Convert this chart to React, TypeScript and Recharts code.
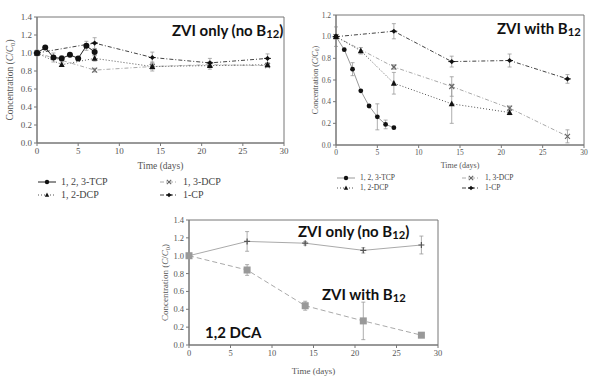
import React from 'react'
import { LineChart, Line, XAxis, YAxis, ErrorBar, ReferenceArea } from 'recharts'

// ---- data ----
const TCP_DAYS = [0, 1, 2, 3, 4, 5, 6, 7]
const WEEK_DAYS = [0, 7, 14, 21, 28]
const DCP12_DAYS_A = [0, 3, 7, 14, 21, 28]
const DCP12_DAYS_B = [0, 3, 7, 14, 21]
const X_TICKS = [0, 5, 10, 15, 20, 25, 30]

// panel 1: ZVI only (no B12)
const A_TCP = [1.0, 1.06, 0.95, 0.94, 0.98, 0.94, 1.08, 1.01]
const A_TCP_ERR = [0.02, null, 0.05, 0.03, null, null, 0.05, 0.04]
const A_DCP12 = [1.0, 0.87, 0.94, 0.85, 0.86, 0.87]
const A_DCP12_ERR = [0.03, 0.02, 0.03, 0.05, 0.04, 0.02]
const A_DCP13 = [1.0, 0.81, 0.85, 0.87, 0.86]
const A_DCP13_ERR = [0.02, 0.02, 0.03, 0.03, 0.02]
const A_CP = [1.0, 1.11, 0.95, 0.89, 0.94]
const A_CP_ERR = [0.03, 0.06, 0.06, 0.05, 0.05]
const A_Y_TICKS = [0, 0.2, 0.4, 0.6, 0.8, 1.0, 1.2, 1.4]

// panel 2: ZVI with B12
const B_TCP = [1.0, 0.88, 0.7, 0.5, 0.36, 0.26, 0.19, 0.16]
const B_TCP_ERR = [null, null, 0.06, null, null, 0.12, 0.04, null]
const B_DCP12 = [1.0, 0.87, 0.57, 0.38, 0.3]
const B_DCP12_ERR = [0.02, 0.03, 0.1, 0.18, 0.02]
const B_DCP13 = [1.0, 0.72, 0.54, 0.34, 0.08]
const B_DCP13_ERR = [0.02, 0.02, 0.09, 0.02, 0.06]
const B_CP = [1.0, 1.05, 0.77, 0.78, 0.61]
const B_CP_ERR = [0.09, 0.07, 0.05, 0.06, 0.04]
const B_Y_TICKS = [0, 0.2, 0.4, 0.6, 0.8, 1.0, 1.2]

// panel 3: 1,2 DCA
const C_NO_B12 = [1.0, 1.16, 1.14, 1.06, 1.12]
const C_NO_B12_ERR = [0.01, 0.11, 0.02, 0.03, 0.1]
const C_B12 = [1.0, 0.84, 0.44, 0.27, 0.11]
const C_B12_ERR = [0.01, 0.06, 0.05, 0.21, 0.01]

const LEGEND_LABELS = ['1, 2, 3-TCP', '1, 3-DCP', '1, 2-DCP', '1-CP']

type Row = { d: number; v: number; e: number | null }
const rows = (days: number[], vals: number[], errs: (number | null)[]): Row[] =>
  days.map((d, i) => ({ d, v: vals[i], e: errs[i] ?? null }))

const AXIS = '#777'
const TXT = '#555'
const SERIF = "'Liberation Serif', 'DejaVu Serif', serif"
const BOLD = "Lato, 'Open Sans', sans-serif"

type Kind = 'circle' | 'triangle' | 'cross' | 'diamond' | 'plus' | 'square'

function marker(kind: Kind, cx: number, cy: number, s: number, color: string, key?: string) {
  if (kind === 'circle') return <circle key={key} cx={cx} cy={cy} r={s} fill={color} />
  if (kind === 'triangle')
    return <polygon key={key} points={`${cx},${cy - s * 1.1} ${cx - s},${cy + s * 0.8} ${cx + s},${cy + s * 0.8}`} fill={color} />
  if (kind === 'cross')
    return (
      <path key={key} d={`M${cx - s},${cy - s}L${cx + s},${cy + s}M${cx - s},${cy + s}L${cx + s},${cy - s}`} stroke={color} strokeWidth={1.1} fill="none" />
    )
  if (kind === 'diamond')
    return (
      <g key={key}>
        <polygon points={`${cx},${cy - s} ${cx + s},${cy} ${cx},${cy + s} ${cx - s},${cy}`} fill={color} />
        <line x1={cx - s * 1.3} y1={cy} x2={cx + s * 1.3} y2={cy} stroke={color} strokeWidth={1} />
      </g>
    )
  if (kind === 'plus')
    return (
      <path key={key} d={`M${cx - s},${cy}L${cx + s},${cy}M${cx},${cy - s}L${cx},${cy + s}`} stroke={color} strokeWidth={1.2} fill="none" />
    )
  return <rect key={key} x={cx - s} y={cy - s} width={s * 2} height={s * 2} fill={color} />
}

const dotOf = (kind: Kind, s: number, color: string, id: string) => (p: any) =>
  marker(kind, p.cx, p.cy, s, color, `${id}-${p.index}`)

const yLabel = (dx: number, size: number) => (p: any) => {
  const vb = p.viewBox || { x: 0, y: 0, width: 0, height: 0 }
  const x = vb.x + dx
  const y = vb.y + vb.height / 2
  return (
    <text x={x} y={y} transform={`rotate(-90 ${x} ${y})`} textAnchor="middle" dominantBaseline="central"
      fontSize={size} fill={TXT} fontFamily={SERIF}>
      Concentration (<tspan fontStyle="italic">C</tspan>/<tspan fontStyle="italic">C</tspan>
      <tspan dy={2} fontSize={size * 0.7}>0</tspan><tspan dy={-2}>)</tspan>
    </text>
  )
}

type SeriesDef = {
  id: string
  data: Row[]
  stroke: string
  dash?: string
  kind: Kind
  size: number
  markColor: string
}

function Panel({
  width, height, margin, yWidth, xHeight, yMax, yTicks, series, fontSize, labelDx, labelOffset,
}: {
  width: number; height: number; margin: any; yWidth: number; xHeight: number; yMax: number
  yTicks: number[]; series: SeriesDef[]; fontSize: number; labelDx: number; labelOffset: number
}) {
  const tick = { fontSize, fill: TXT, fontFamily: SERIF }
  return (
    <LineChart width={width} height={height} margin={margin}>
      <XAxis dataKey="d" type="number" domain={[0, 30]} ticks={X_TICKS} height={xHeight}
        stroke={AXIS} tickSize={3} tick={tick} allowDuplicatedCategory={false}
        label={{ value: 'Time (days)', position: 'insideBottom', offset: labelOffset, fontSize: fontSize + 0.5, fill: TXT, fontFamily: SERIF }} />
      <YAxis type="number" domain={[0, yMax]} ticks={yTicks} width={yWidth} stroke={AXIS} tickSize={3}
        tick={tick} tickFormatter={(v: number) => v.toFixed(1)} label={{ content: yLabel(labelDx, fontSize + 0.5) }} />
      <ReferenceArea x1={0} x2={30} y1={0} y2={yMax} fill="none" stroke={AXIS} strokeOpacity={1} />
      {series.map((s) => (
        <Line key={s.id} data={s.data} dataKey="v" type="linear" stroke={s.stroke} strokeWidth={1}
          strokeDasharray={s.dash} dot={dotOf(s.kind, s.size, s.markColor, s.id)} activeDot={false}
          isAnimationActive={false}>
          <ErrorBar dataKey="e" direction="y" width={2} stroke="#999" strokeWidth={0.8} />
        </Line>
      ))}
    </LineChart>
  )
}

function LegendBlock({ left, top, colGap, rowGap, fontSize, tcpStroke, sample }: {
  left: number; top: number; colGap: number; rowGap: number; fontSize: number; tcpStroke: string; sample: number
}) {
  const items: { label: string; stroke: string; dash?: string; kind: Kind; color: string }[] = [
    { label: LEGEND_LABELS[0], stroke: tcpStroke, kind: 'circle', color: '#111' },
    { label: LEGEND_LABELS[1], stroke: '#aaa', dash: '4 2 1 2', kind: 'cross', color: '#666' },
    { label: LEGEND_LABELS[2], stroke: '#555', dash: '1 2', kind: 'triangle', color: '#111' },
    { label: LEGEND_LABELS[3], stroke: '#444', dash: '4 2 1 2', kind: 'diamond', color: '#111' },
  ]
  return (
    <>
      {items.map((it, i) => (
        <div key={it.label} style={{
          position: 'absolute', left: left + (i % 2) * colGap, top: top + Math.floor(i / 2) * rowGap,
          display: 'flex', alignItems: 'center', fontFamily: SERIF, fontSize, color: '#444', lineHeight: 1, whiteSpace: 'nowrap',
        }}>
          <svg width={sample} height={8} style={{ marginRight: 5 }}>
            <line x1={0} y1={4} x2={sample} y2={4} stroke={it.stroke} strokeDasharray={it.dash} strokeWidth={1} />
            {marker(it.kind, sample / 2, 4, 2.2, it.color)}
          </svg>
          {it.label}
        </div>
      ))}
    </>
  )
}

function Note({ left, top, size, children }: { left: number; top: number; size: number; children: React.ReactNode }) {
  return (
    <div style={{ position: 'absolute', left, top, fontFamily: BOLD, fontWeight: 700, fontSize: size, lineHeight: 1, color: '#111', whiteSpace: 'nowrap' }}>
      {children}
    </div>
  )
}

const B12 = <>B<sub style={{ fontSize: '0.75em', verticalAlign: '-0.15em' }}>12</sub></>

export default function App() {
  const panelA: SeriesDef[] = [
    { id: 'a13', data: rows(WEEK_DAYS, A_DCP13, A_DCP13_ERR), stroke: '#aaa', dash: '4 2 1 2', kind: 'cross', size: 2.5, markColor: '#666' },
    { id: 'a12', data: rows(DCP12_DAYS_A, A_DCP12, A_DCP12_ERR), stroke: '#555', dash: '1 2', kind: 'triangle', size: 3, markColor: '#111' },
    { id: 'acp', data: rows(WEEK_DAYS, A_CP, A_CP_ERR), stroke: '#444', dash: '4 2 1 2', kind: 'diamond', size: 2.6, markColor: '#111' },
    { id: 'atcp', data: rows(TCP_DAYS, A_TCP, A_TCP_ERR), stroke: '#222', kind: 'circle', size: 3, markColor: '#111' },
  ]
  const panelB: SeriesDef[] = [
    { id: 'b13', data: rows(WEEK_DAYS, B_DCP13, B_DCP13_ERR), stroke: '#aaa', dash: '4 2 1 2', kind: 'cross', size: 2.5, markColor: '#666' },
    { id: 'b12', data: rows(DCP12_DAYS_B, B_DCP12, B_DCP12_ERR), stroke: '#555', dash: '1 2', kind: 'triangle', size: 3, markColor: '#111' },
    { id: 'bcp', data: rows(WEEK_DAYS, B_CP, B_CP_ERR), stroke: '#444', dash: '4 2 1 2', kind: 'diamond', size: 2.6, markColor: '#111' },
    { id: 'btcp', data: rows(TCP_DAYS, B_TCP, B_TCP_ERR), stroke: '#999', kind: 'circle', size: 2.4, markColor: '#111' },
  ]
  const panelC: SeriesDef[] = [
    { id: 'cno', data: rows(WEEK_DAYS, C_NO_B12, C_NO_B12_ERR), stroke: '#aaa', kind: 'plus', size: 3, markColor: '#555' },
    { id: 'cb12', data: rows(WEEK_DAYS, C_B12, C_B12_ERR), stroke: '#aaa', dash: '5 3', kind: 'square', size: 3.5, markColor: '#999' },
  ]

  return (
    <div style={{ position: 'absolute', left: 0, top: 0, width: 593, height: 378, background: '#fff', overflow: 'hidden' }}>
      <div style={{ position: 'absolute', left: 0, top: 0 }}>
        <Panel width={300} height={172} margin={{ top: 17, right: 16, bottom: 0, left: 0 }} yWidth={37} xHeight={29}
          yMax={1.4} yTicks={A_Y_TICKS} series={panelA} fontSize={9} labelDx={10} labelOffset={3} />
      </div>
      <div style={{ position: 'absolute', left: 295, top: 0 }}>
        <Panel width={298} height={170} margin={{ top: 15, right: 9, bottom: 0, left: 0 }} yWidth={41} xHeight={25}
          yMax={1.2} yTicks={B_Y_TICKS} series={panelB} fontSize={7.5} labelDx={20} labelOffset={2} />
      </div>
      <div style={{ position: 'absolute', left: 150, top: 200 }}>
        <Panel width={300} height={176} margin={{ top: 20, right: 12, bottom: 0, left: 0 }} yWidth={39} xHeight={31}
          yMax={1.4} yTicks={A_Y_TICKS} series={panelC} fontSize={8.5} labelDx={15} labelOffset={2} />
      </div>

      <LegendBlock left={38} top={177} colGap={122} rowGap={13} fontSize={10} tcpStroke="#222" sample={18} />
      <LegendBlock left={337} top={174} colGap={125} rowGap={10} fontSize={7.5} tcpStroke="#999" sample={18} />

      <Note left={172} top={23} size={15}>ZVI only (no {B12})</Note>
      <Note left={497} top={21} size={15}>ZVI with {B12}</Note>
      <Note left={298} top={224} size={15}>ZVI only (no {B12})</Note>
      <Note left={322} top={287} size={15}>ZVI with {B12}</Note>
      <Note left={205} top={325} size={15}>1,2 DCA</Note>
    </div>
  )
}
